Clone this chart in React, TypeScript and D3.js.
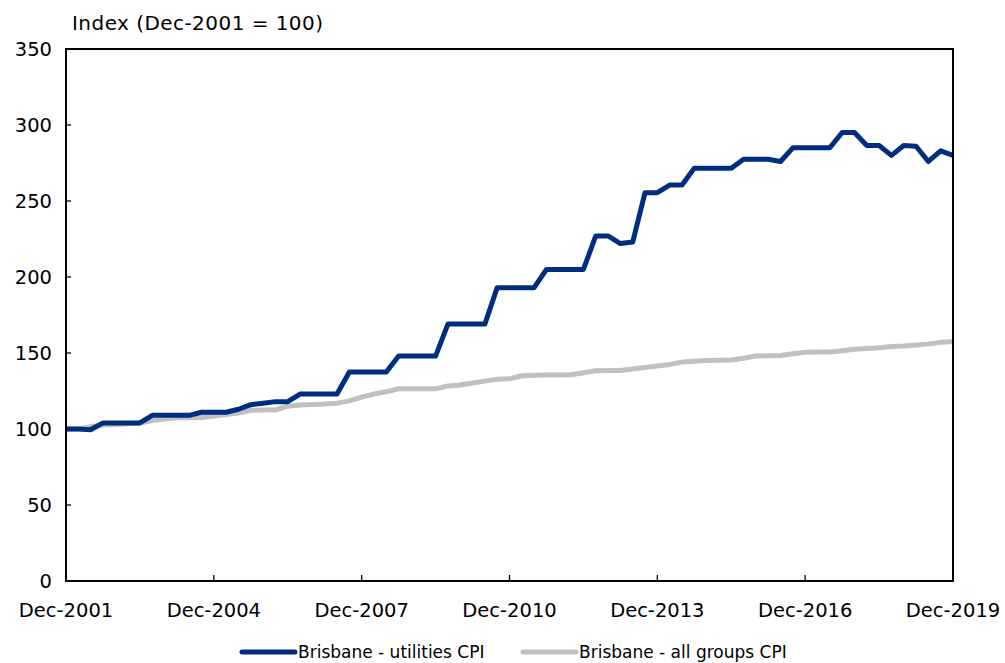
import React from "react";
import * as d3 from "d3";

const quarters: string[] = d3.range(73).map((i) => {
  const m = 11 + i * 3;
  const y = 2001 + Math.floor(m / 12);
  const mon = (m % 12) + 1;
  return `${y}-${String(mon).padStart(2, "0")}`;
});

const utilitiesCPI: number[] = [
  100, 100, 99.5, 104, 104, 104, 104, 109, 109, 109, 109, 111, 111, 111, 113, 116,
  117, 118, 118, 123, 123, 123, 123, 137.5, 137.5, 137.5, 137.5, 148, 148, 148, 148,
  169, 169, 169, 169, 193, 193, 193, 193, 205, 205, 205, 205, 227, 227, 222, 223,
  255.5, 255.5, 260.5, 260.5, 271.5, 271.5, 271.5, 271.5, 277.5, 277.5, 277.5, 276,
  285, 285, 285, 285, 295, 295, 286.5, 286.5, 280, 286.5, 286, 276, 283, 280,
];

const allGroupsCPI: number[] = [
  100, 100, 101.5, 102.6, 103, 103.5, 104, 105.5, 106.5, 107.4, 107.4, 107.5, 108.5,
  109.5, 110.5, 112.3, 112.5, 112.5, 115, 115.8, 116.2, 116.4, 117, 118.5, 121, 123,
  124.5, 126.5, 126.5, 126.5, 126.5, 128.3, 129, 130.3, 131.5, 132.7, 133, 135, 135.3,
  135.5, 135.5, 135.7, 137, 138.3, 138.5, 138.5, 139.5, 140.5, 141.5, 142.5, 144,
  144.5, 145, 145.3, 145.4, 146.5, 148, 148.2, 148.3, 149.5, 150.5, 150.6, 150.6,
  151.5, 152.5, 153, 153.5, 154.3, 154.6, 155.3, 156, 157, 157.5,
];

const yTicks: number[] = [0, 50, 100, 150, 200, 250, 300, 350];
const xTickIndices: number[] = [0, 12, 24, 36, 48, 60, 72];
const xTickLabels: string[] = [
  "Dec-2001", "Dec-2004", "Dec-2007", "Dec-2010", "Dec-2013", "Dec-2016", "Dec-2019",
];
const seriesNames: string[] = ["Brisbane - utilities CPI", "Brisbane - all groups CPI"];
const seriesColors: string[] = ["#002D7D", "#C0C0C0"];

export default function App() {
  const W = 1005;
  const H = 663;
  const left = 66;
  const right = 953;
  const top = 49;
  const bottom = 581;

  const x = d3.scaleLinear().domain([0, 72]).range([left, right]);
  const y = d3.scaleLinear().domain([0, 350]).range([bottom, top]);
  const line = d3
    .line<number>()
    .x((_, i) => x(i))
    .y((d) => y(d));

  const font = "'DejaVu Sans', Verdana, sans-serif";

  return (
    <svg
      width={W}
      height={H}
      style={{ position: "absolute", left: 0, top: 0, background: "#fff" }}
      fontFamily={font}
    >
      <rect x={0} y={0} width={W} height={H} fill="#fff" />
      <text x={72} y={30} fontSize={20} fill="#000" textLength={251} lengthAdjust="spacing">
        Index (Dec-2001 = 100)
      </text>
      {yTicks.map((t) => (
        <g key={t}>
          <line x1={left} x2={left + 5} y1={y(t)} y2={y(t)} stroke="#000" strokeWidth={1.3} />
          <text
            x={52}
            y={y(t)}
            dy="0.36em"
            textAnchor="end"
            fontSize={19.5}
            fill="#000"
          >
            {t}
          </text>
        </g>
      ))}
      {xTickIndices.map((ti, k) => (
        <g key={ti}>
          <line x1={x(ti)} x2={x(ti)} y1={bottom} y2={bottom - 6} stroke="#000" strokeWidth={1.3} />
          <text x={x(ti)} y={617} textAnchor="middle" fontSize={19.5} fill="#000">
            {xTickLabels[k]}
          </text>
        </g>
      ))}
      <path d={line(allGroupsCPI) || ""} fill="none" stroke={seriesColors[1]} strokeWidth={5} strokeLinejoin="round" />
      <path d={line(utilitiesCPI) || ""} fill="none" stroke={seriesColors[0]} strokeWidth={5} strokeLinejoin="round" />
      <rect
        x={left}
        y={top}
        width={right - left}
        height={bottom - top}
        fill="none"
        stroke="#000"
        strokeWidth={2}
      />
      <g>
        <line x1={242} x2={295} y1={652} y2={652} stroke={seriesColors[0]} strokeWidth={5} strokeLinecap="round" />
        <text x={298} y={658} fontSize={17} fill="#000">
          {seriesNames[0]}
        </text>
        <line x1={523} x2={576} y1={652} y2={652} stroke={seriesColors[1]} strokeWidth={5} strokeLinecap="round" />
        <text x={579} y={658} fontSize={17} fill="#000">
          {seriesNames[1]}
        </text>
      </g>
    </svg>
  );
}
